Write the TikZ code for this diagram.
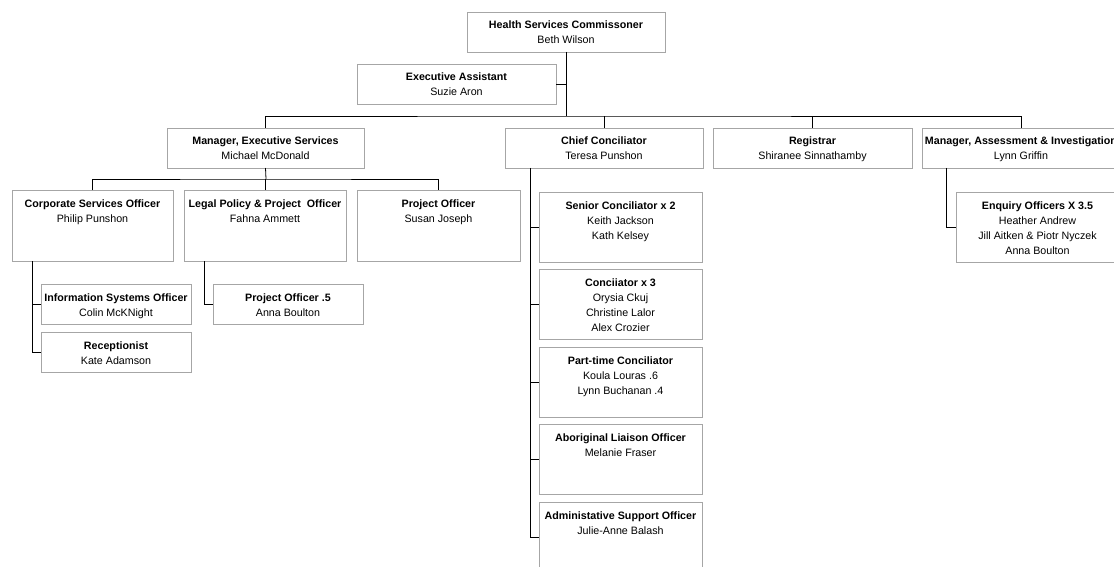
\documentclass[tikz,border=0pt]{standalone}
\usepackage{fontspec}
\setmainfont{Liberation Sans}
\usetikzlibrary{positioning}

% box text: bold title on top, names below
\newcommand{\card}[4]{\parbox[c][#2][t]{#1}{\centering\rule{0pt}{17pt}\textbf{#3}\\#4}}

\begin{document}
\begin{tikzpicture}[x=1pt, y=-1pt,
    post/.style = {draw=gray!70, line width=0.8pt, inner sep=0pt, outer sep=0pt,
                   anchor=north west, font=\fontsize{10.7}{15}\selectfont},
    link/.style = {draw=black, line width=0.8pt}]
    \useasboundingbox (0,0) rectangle (1114,567);

    % top levels
    \node[post] at (467,12) (comm) {\card{198pt}{40pt}{Health Services Commissoner}{Beth Wilson}};
    \node[post] at (357,64) (ea) {\card{199pt}{40pt}{Executive Assistant}{Suzie Aron}};
    \node[post] at (167,128) (mes) {\card{197pt}{40pt}{Manager, Executive Services}{Michael McDonald}};
    \node[post] at (505,128) (cc) {\card{198pt}{40pt}{Chief Conciliator}{Teresa Punshon}};
    \node[post] at (713,128) (reg) {\card{199pt}{40pt}{Registrar}{Shiranee Sinnathamby}};
    \node[post] at (922,128) (mai) {\card{198pt}{40pt}{Manager, Assessment \& Investigation}{Lynn Griffin}};

    % executive services
    \node[post] at (12,190) (corp) {\card{161pt}{71pt}{Corporate Services Officer}{Philip Punshon}};
    \node[post] at (184,190) (legal) {\card{162pt}{71pt}{Legal Policy \& Project\ \ Officer}{Fahna Ammett}};
    \node[post] at (357,190) (proj) {\card{163pt}{71pt}{Project Officer}{Susan Joseph}};
    \node[post] at (41,284) (info) {\card{150pt}{40pt}{Information Systems Officer}{Colin McKNight}};
    \node[post] at (41,332) (recep) {\card{150pt}{40pt}{Receptionist}{Kate Adamson}};
    \node[post] at (213,284) (poh) {\card{150pt}{40pt}{Project Officer .5}{Anna Boulton}};

    % conciliation
    \node[post] at (539,192) (senior) {\card{163pt}{70pt}{Senior Conciliator x 2}{Keith Jackson\\Kath Kelsey}};
    \node[post] at (539,269) (conc) {\card{163pt}{70pt}{Conciiator x 3}{Orysia Ckuj\\Christine Lalor\\Alex Crozier}};
    \node[post] at (539,347) (part) {\card{163pt}{70pt}{Part-time Conciliator}{Koula Louras .6\\Lynn Buchanan .4}};
    \node[post] at (539,424) (abor) {\card{163pt}{70pt}{Aboriginal Liaison Officer}{Melanie Fraser}};
    \node[post] at (539,502) (admin) {\card{163pt}{70pt}{Administative Support Officer}{Julie-Anne Balash}};

    % assessment
    \node[post] at (956,192) (enq) {\card{163pt}{70pt}{Enquiry Officers X 3.5}{Heather Andrew\\Jill Aitken \& Piotr Nyczek\\Anna Boulton}};

    \coordinate (hub) at (566,116);
    \coordinate (sub) at (266,179);

    \draw[link] (comm.south) -- (hub);
    \draw[link] (ea.east) -- (ea.east -| hub);
    \draw[link] (mes.north) |- (hub) -| (mai.north);
    \draw[link] (cc.north) -- (cc.north |- hub);
    \draw[link] (reg.north) -- (reg.north |- hub);

    \draw[link] (mes.south) -- (sub);
    \draw[link] (corp.north) |- (sub) -| (proj.north);
    \draw[link] (legal.north) -- (legal.north |- sub);

    \draw[link] ([xshift=20pt]corp.south west) |- (recep.west);
    \draw[link] (info.west) -- ++(-9,0);
    \draw[link] ([xshift=20pt]legal.south west) |- (poh.west);

    \draw[link] ([xshift=25pt]cc.south west) |- (admin.west);
    \draw[link] (senior.west) -- ++(-9,0);
    \draw[link] (conc.west) -- ++(-9,0);
    \draw[link] (part.west) -- ++(-9,0);
    \draw[link] (abor.west) -- ++(-9,0);

    \draw[link] ([xshift=24pt]mai.south west) |- (enq.west);
\end{tikzpicture}
\end{document}
